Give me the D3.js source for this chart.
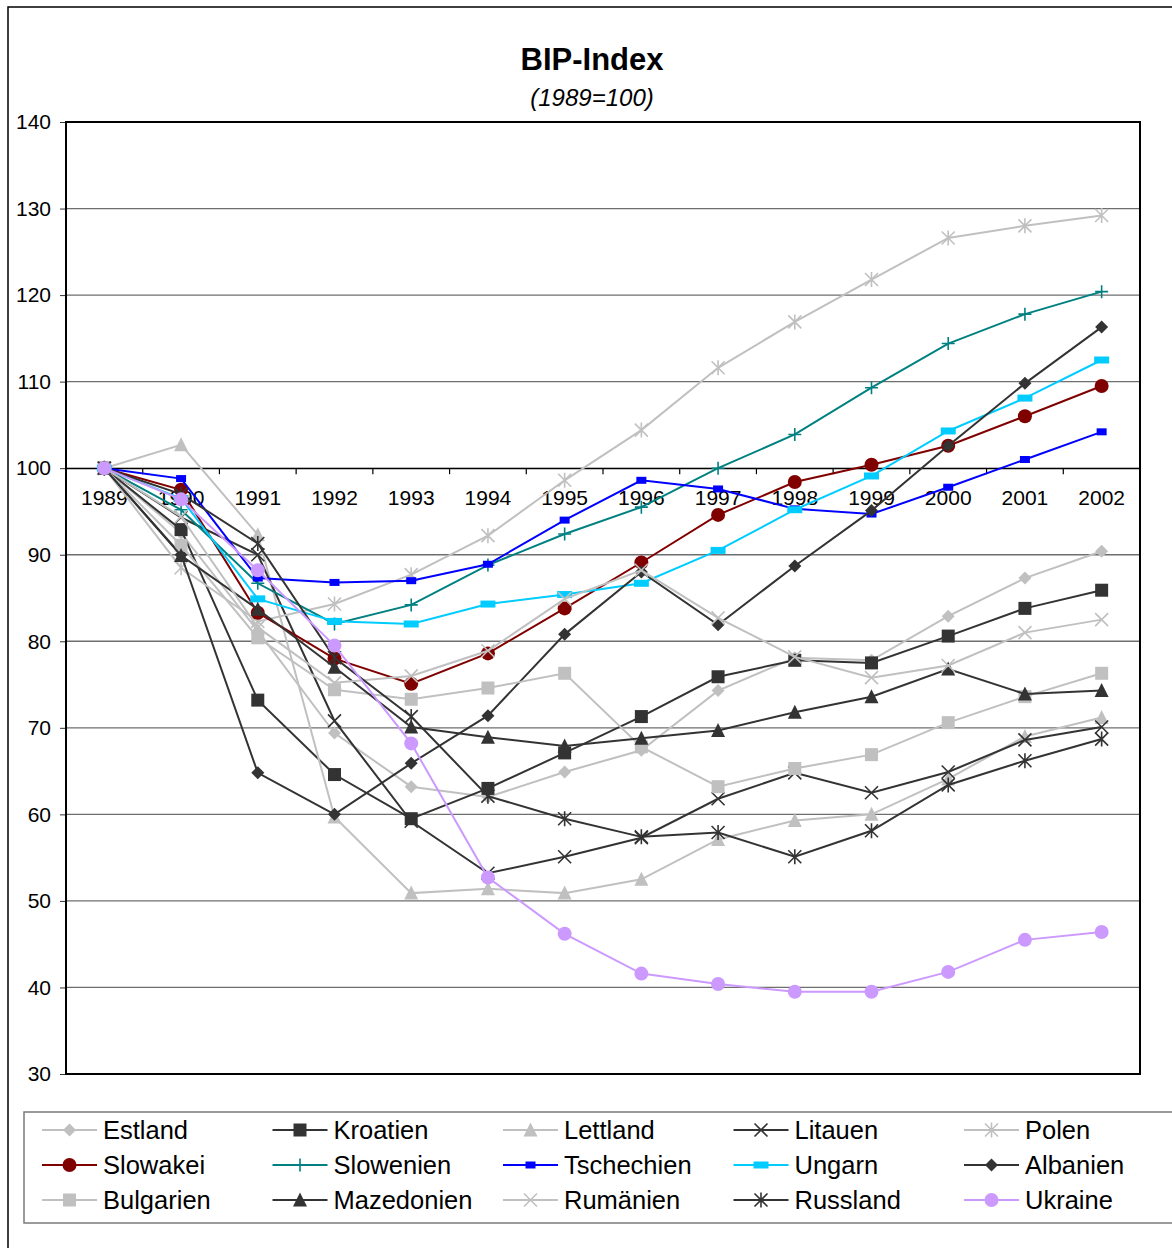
<!DOCTYPE html>
<html>
<head>
<meta charset="utf-8">
<script src="https://cdnjs.cloudflare.com/ajax/libs/d3/7.8.5/d3.min.js"></script>
<style>
  body { margin: 0; background: #fff; }
  svg { font-family: "Liberation Sans", Arial, sans-serif; }
</style>
</head>
<body>
<div class="chart"></div>
<script>
// data (1989 = 100)
const years = [1989, 1990, 1991, 1992, 1993, 1994, 1995, 1996, 1997, 1998, 1999, 2000, 2001, 2002];
const yTicks = [30, 40, 50, 60, 70, 80, 90, 100, 110, 120, 130, 140];

const estland    = [100, 92.5, 81.2, 69.4, 63.2, 62.0, 64.9, 67.4, 74.3, 78.1, 77.8, 82.9, 87.3, 90.4];
const kroatien   = [100, 92.9, 73.2, 64.6, 59.5, 63.0, 67.1, 71.3, 75.9, 77.8, 77.5, 80.6, 83.8, 85.9];
const lettland   = [100, 102.7, 92.3, 59.7, 50.9, 51.4, 50.9, 52.5, 57.1, 59.3, 60.0, 64.1, 69.0, 71.2];
const litauen    = [100, 94.3, 90.0, 70.8, 59.2, 53.2, 55.1, 57.3, 61.8, 64.8, 62.5, 64.9, 68.6, 70.1];
const polen      = [100, 88.5, 82.3, 84.3, 87.7, 92.2, 98.6, 104.4, 111.6, 116.9, 121.8, 126.6, 128.0, 129.2];
const slowakei   = [100, 97.5, 83.3, 78.0, 75.1, 78.6, 83.8, 89.1, 94.6, 98.4, 100.4, 102.6, 106.0, 109.5];
const slowenien  = [100, 95.2, 86.7, 82.0, 84.2, 88.8, 92.4, 95.5, 100.0, 103.9, 109.3, 114.4, 117.8, 120.4];
const tschechien = [100, 98.8, 87.3, 86.8, 87.0, 88.9, 94.0, 98.6, 97.6, 95.3, 94.7, 97.8, 101.0, 104.2];
const ungarn     = [100, 96.5, 84.9, 82.3, 82.0, 84.3, 85.4, 86.7, 90.5, 95.2, 99.1, 104.3, 108.1, 112.5];
const albanien   = [100, 90.0, 64.8, 60.0, 65.9, 71.4, 80.8, 88.0, 81.9, 88.7, 95.1, 102.6, 109.8, 116.3];
const bulgarien  = [100, 91.1, 80.4, 74.4, 73.3, 74.6, 76.3, 67.8, 63.2, 65.3, 66.9, 70.6, 73.6, 76.3];
const mazedonien = [100, 89.9, 83.7, 77.0, 70.1, 68.9, 67.9, 68.8, 69.7, 71.8, 73.6, 76.8, 73.9, 74.3];
const rumaenien  = [100, 94.4, 81.6, 75.2, 76.0, 78.9, 84.9, 88.2, 82.7, 78.2, 75.8, 77.2, 81.0, 82.5];
const russland   = [100, 97.0, 91.3, 78.1, 71.3, 62.1, 59.5, 57.4, 57.9, 55.1, 58.1, 63.4, 66.2, 68.7];
const ukraine    = [100, 96.4, 88.2, 79.5, 68.2, 52.7, 46.2, 41.6, 40.4, 39.5, 39.5, 41.8, 45.5, 46.4];

const names   = ["Estland", "Kroatien", "Lettland", "Litauen", "Polen",
                 "Slowakei", "Slowenien", "Tschechien", "Ungarn", "Albanien",
                 "Bulgarien", "Mazedonien", "Rumänien", "Russland", "Ukraine"];
const values  = [estland, kroatien, lettland, litauen, polen,
                 slowakei, slowenien, tschechien, ungarn, albanien,
                 bulgarien, mazedonien, rumaenien, russland, ukraine];
const colors  = ["#c0c0c0", "#333333", "#c0c0c0", "#333333", "#c0c0c0",
                 "#800000", "#008080", "#0000ff", "#00ccff", "#333333",
                 "#c0c0c0", "#333333", "#c0c0c0", "#333333", "#cc99ff"];
const markers = ["diamond", "square", "triangle", "x", "star",
                 "circle", "plus", "rect", "dash", "diamond",
                 "square", "triangle", "x", "star", "circle"];

const series = names.map((name, i) => ({name, color: colors[i], marker: markers[i], values: values[i]}));

const W = 1172, H = 1248;
const plot = {left: 66, right: 1140, top: 122, bottom: 1074};

const svg = d3.select(".chart").append("svg")
  .attr("width", W)
  .attr("height", H);

// outer frame of the chart object (cut off at right and bottom)
svg.append("rect")
  .attr("x", 8).attr("y", 7)
  .attr("width", 1300).attr("height", 1400)
  .attr("fill", "none").attr("stroke", "#000").attr("stroke-width", 1.5);

// scales
const xScale = d3.scaleBand().domain(years).range([plot.left, plot.right]);
const yScale = d3.scaleLinear().domain([30, 140]).range([plot.bottom, plot.top]);
const cx = d => xScale(d) + xScale.bandwidth() / 2;

// title
svg.append("text")
  .attr("x", 592).attr("y", 70)
  .attr("text-anchor", "middle")
  .attr("font-size", 31).attr("font-weight", "bold")
  .text("BIP-Index");
svg.append("text")
  .attr("x", 592).attr("y", 106)
  .attr("text-anchor", "middle")
  .attr("font-size", 24).attr("font-style", "italic")
  .text("(1989=100)");

// gridlines
svg.append("g").selectAll("line")
  .data(yTicks.filter(t => t > 30 && t < 140))
  .join("line")
  .attr("x1", plot.left).attr("x2", plot.right)
  .attr("y1", d => yScale(d)).attr("y2", d => yScale(d))
  .attr("stroke", "#6e6e6e").attr("stroke-width", 1.3);

// y axis
const yAxis = d3.axisLeft(yScale).tickValues(yTicks).tickSize(6).tickSizeOuter(0).tickPadding(9);
const yAxisG = svg.append("g")
  .attr("transform", `translate(${plot.left},0)`)
  .call(yAxis);
yAxisG.select(".domain").remove();
yAxisG.selectAll(".tick line").attr("stroke", "#333");
yAxisG.selectAll("text").attr("font-size", 21).attr("fill", "#000");

// x axis crossing at 100
const y100 = yScale(100);
const xAxis = d3.axisBottom(xScale).tickSize(0).tickPadding(22);
const xAxisG = svg.append("g")
  .attr("transform", `translate(0,${y100})`)
  .call(xAxis);
xAxisG.select(".domain").attr("stroke", "#000").attr("stroke-width", 1.3);
xAxisG.selectAll("text").attr("font-size", 21).attr("fill", "#000");

// tick marks between categories
svg.append("g").selectAll("line")
  .data(years.slice(1))
  .join("line")
  .attr("x1", d => xScale(d)).attr("x2", d => xScale(d))
  .attr("y1", y100).attr("y2", y100 + 6)
  .attr("stroke", "#000").attr("stroke-width", 1.2);

// plot border
svg.append("rect")
  .attr("x", plot.left).attr("y", plot.top)
  .attr("width", plot.right - plot.left).attr("height", plot.bottom - plot.top)
  .attr("fill", "none").attr("stroke", "#000").attr("stroke-width", 2);

// marker shapes
function markerPath(type, k = 1) {
  const s = 6.5 * k;
  switch (type) {
    case "diamond":  return `M0,${-s}L${s},0L0,${s}L${-s},0Z`;
    case "square":   return `M${-s},${-s}H${s}V${s}H${-s}Z`;
    case "triangle": return `M0,${-s - 1}L${s + 0.5},${s}L${-s - 0.5},${s}Z`;
    case "circle":   return d3.symbol(d3.symbolCircle, Math.PI * 49 * k * k)();
    case "x":        return `M${-s},${-s}L${s},${s}M${-s},${s}L${s},${-s}`;
    case "star":     return `M${-s},${-s}L${s},${s}M${-s},${s}L${s},${-s}M0,${-s - 1}V${s + 1}`;
    case "plus":     return `M${-s},0H${s}M0,${-s}V${s}`;
    case "rect":     return `M-5,-3.5H5V3.5H-5Z`;
    case "dash":     return `M-7.5,-3.5H7.5V3.5H-7.5Z`;
  }
}
const isStroke = m => m === "x" || m === "star" || m === "plus";

function drawMarker(sel, s, k) {
  sel.attr("d", markerPath(s.marker, k))
    .attr("fill", isStroke(s.marker) ? "none" : s.color)
    .attr("stroke", isStroke(s.marker) ? s.color : "none")
    .attr("stroke-width", 1.6);
}

// lines and markers
const line = d3.line()
  .x((d, i) => cx(years[i]))
  .y(d => yScale(d));

const seriesG = svg.append("g").selectAll("g")
  .data(series)
  .join("g");

seriesG.append("path")
  .attr("d", d => line(d.values))
  .attr("fill", "none")
  .attr("stroke", d => d.color)
  .attr("stroke-width", 2);

seriesG.each(function(s) {
  d3.select(this).selectAll(".mk")
    .data(s.values)
    .join("path")
    .attr("class", "mk")
    .attr("transform", (d, i) => `translate(${cx(years[i])},${yScale(d)})`)
    .call(drawMarker, s, 1);
});

// legend
const legend = svg.append("g");
legend.append("rect")
  .attr("x", 24).attr("y", 1112)
  .attr("width", 1200).attr("height", 111)
  .attr("fill", "#fff").attr("stroke", "#7a7a7a").attr("stroke-width", 1.5);

const legendItem = legend.selectAll("g.item")
  .data(series)
  .join("g")
  .attr("class", "item")
  .attr("transform", (d, i) => `translate(${103 + (i % 5) * 230.5},${1130 + Math.floor(i / 5) * 35})`);

legendItem.append("line")
  .attr("x1", -61).attr("x2", -6)
  .attr("stroke", d => d.color).attr("stroke-width", 2);
legendItem.append("path")
  .attr("transform", "translate(-33.5,0)")
  .each(function(s) { d3.select(this).call(drawMarker, s, 1); });
legendItem.append("text")
  .attr("x", 0).attr("dy", "0.35em")
  .attr("font-size", 25.5)
  .text(d => d.name);
</script>
</body>
</html>
